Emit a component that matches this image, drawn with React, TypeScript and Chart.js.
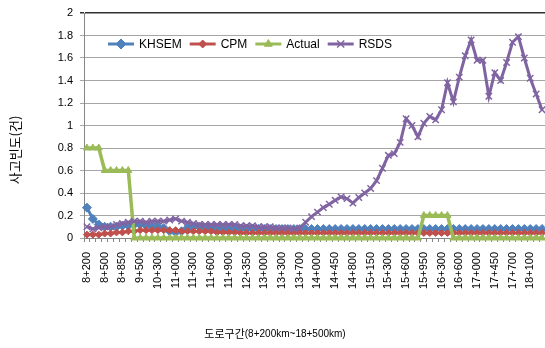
import React, { useEffect, useRef } from 'react';
import { Chart, registerables } from 'chart.js';
import { drawPoint } from 'chart.js/helpers';

Chart.register(...registerables);

const categories = [
  '8+200', '8+300', '8+400', '8+500', '8+600', '8+750', '8+850', '8+950', '9+200', '9+500',
  '9+700', '10+000', '10+300', '10+500', '10+750', '11+000', '11+100', '11+200', '11+300', '11+400',
  '11+500', '11+600', '11+700', '11+800', '11+900', '12+050', '12+200', '12+350', '12+550', '12+800',
  '13+000', '13+100', '13+200', '13+300', '13+400', '13+550', '13+700', '13+800', '13+900', '14+000',
  '14+150', '14+300', '14+450', '14+550', '14+700', '14+800', '14+900', '15+050', '15+150', '15+200',
  '15+250', '15+300', '15+400', '15+500', '15+600', '15+700', '15+850', '15+950', '16+050', '16+200',
  '16+300', '16+400', '16+500', '16+600', '16+750', '16+900', '17+000', '17+150', '17+300', '17+450',
  '17+550', '17+650', '17+700', '17+800', '17+950', '18+100', '18+300', '18+500',
];

const khsem = [
  0.27, 0.17, 0.12, 0.1, 0.1, 0.1, 0.11, 0.11, 0.12, 0.12,
  0.11, 0.1, 0.1, 0.09, 0.06, 0.05, 0.06, 0.09, 0.1, 0.1,
  0.09, 0.08, 0.08, 0.08, 0.08, 0.08, 0.08, 0.08, 0.08, 0.08,
  0.08, 0.08, 0.08, 0.08, 0.08, 0.08, 0.08, 0.08, 0.08, 0.08,
  0.08, 0.08, 0.08, 0.08, 0.08, 0.08, 0.08, 0.08, 0.08, 0.08,
  0.08, 0.08, 0.08, 0.08, 0.08, 0.08, 0.08, 0.08, 0.08, 0.08,
  0.08, 0.08, 0.08, 0.08, 0.08, 0.08, 0.08, 0.08, 0.08, 0.08,
  0.08, 0.08, 0.08, 0.08, 0.08, 0.08, 0.08, 0.08,
];

const cpm = [
  0.03, 0.03, 0.03, 0.04, 0.04, 0.05, 0.05, 0.06, 0.06, 0.07,
  0.07, 0.07, 0.07, 0.07, 0.07, 0.07, 0.06, 0.06, 0.06, 0.06,
  0.06, 0.06, 0.05, 0.05, 0.05, 0.05, 0.045, 0.045, 0.045, 0.045,
  0.045, 0.045, 0.045, 0.045, 0.045, 0.045, 0.045, 0.045, 0.045, 0.045,
  0.045, 0.045, 0.045, 0.045, 0.045, 0.045, 0.045, 0.045, 0.045, 0.045,
  0.045, 0.045, 0.045, 0.045, 0.045, 0.045, 0.045, 0.045, 0.045, 0.045,
  0.045, 0.045, 0.045, 0.045, 0.045, 0.045, 0.045, 0.045, 0.045, 0.045,
  0.045, 0.045, 0.045, 0.045, 0.045, 0.045, 0.045, 0.045,
];

const actual = [
  0.8, 0.8, 0.8, 0.6, 0.6, 0.6, 0.6, 0.6, 0, 0,
  0, 0, 0, 0, 0, 0, 0, 0, 0, 0,
  0, 0, 0, 0, 0, 0, 0, 0, 0, 0,
  0, 0, 0, 0, 0, 0, 0, 0, 0, 0,
  0, 0, 0, 0, 0, 0, 0, 0, 0, 0,
  0, 0, 0, 0, 0, 0, 0, 0.2, 0.2, 0.2,
  0.2, 0.2, 0, 0, 0, 0, 0, 0, 0, 0,
  0, 0, 0, 0, 0, 0, 0, 0,
];

const rsds = [
  0.1, 0.08, 0.09, 0.1, 0.1, 0.12, 0.13, 0.14, 0.15, 0.15,
  0.14, 0.15, 0.15, 0.15, 0.16, 0.17, 0.15, 0.14, 0.13, 0.12,
  0.12, 0.12, 0.12, 0.12, 0.12, 0.12, 0.11, 0.11, 0.11, 0.1,
  0.1, 0.1, 0.09, 0.09, 0.09, 0.08, 0.09, 0.14, 0.19, 0.23,
  0.27, 0.3, 0.335, 0.365, 0.35, 0.31, 0.36, 0.4, 0.44, 0.51,
  0.62, 0.735, 0.75, 0.85, 1.06, 1.0, 0.9, 1.02, 1.08, 1.05,
  1.14, 1.38, 1.21, 1.43, 1.62, 1.76, 1.58, 1.58, 1.26, 1.47,
  1.4, 1.56, 1.74, 1.79, 1.6, 1.42, 1.28, 1.14,
];

const seriesNames = ['KHSEM', 'CPM', 'Actual', 'RSDS'];
const seriesColors = ['#4F81BD', '#C0504D', '#9BBB59', '#8064A2'];
const yTitle = '사고빈도(건)';
const xTitleMain = '도로구간';
const xTitleSub = '(8+200km~18+500km)';
const labelEvery = 3;

const SANS = '"Liberation Sans", Arial, sans-serif';
const KR = '"Noto Sans CJK KR", "Noto Sans", sans-serif';

const legendPlugin = {
  id: 'excelLegend',
  afterDraw(chart: any) {
    const ctx = chart.ctx;
    ctx.save();
    ctx.font = '12px ' + SANS;
    ctx.textBaseline = 'middle';
    let x = 108;
    const y = 44;
    chart.data.datasets.forEach((ds: any) => {
      ctx.strokeStyle = ds.borderColor;
      ctx.lineWidth = 3;
      ctx.beginPath();
      ctx.moveTo(x, y);
      ctx.lineTo(x + 26, y);
      ctx.stroke();
      ctx.fillStyle = ds.pointBackgroundColor;
      ctx.strokeStyle = ds.pointBorderColor;
      ctx.lineWidth = ds.pointBorderWidth;
      drawPoint(ctx, { pointStyle: ds.pointStyle, rotation: 0, radius: ds.pointRadius + 0.5, borderWidth: ds.pointBorderWidth }, x + 13, y);
      ctx.fillStyle = '#000';
      ctx.textAlign = 'left';
      ctx.fillText(ds.label, x + 31, y + 0.5);
      x += 31 + ctx.measureText(ds.label).width + 8;
    });
    ctx.restore();
  },
};

const titlesPlugin = {
  id: 'axisTitles',
  afterDraw(chart: any) {
    const ctx = chart.ctx;
    ctx.save();
    ctx.fillStyle = '#000';
    ctx.translate(15, 150);
    ctx.rotate(-Math.PI / 2);
    ctx.font = '13px ' + KR;
    ctx.textAlign = 'center';
    ctx.textBaseline = 'middle';
    ctx.fillText(yTitle, 0, 0);
    ctx.restore();

    ctx.save();
    ctx.fillStyle = '#000';
    ctx.textBaseline = 'middle';
    ctx.textAlign = 'left';
    ctx.font = '11px ' + KR;
    const w1 = ctx.measureText(xTitleMain).width;
    ctx.font = '10px ' + SANS;
    const w2 = ctx.measureText(xTitleSub).width;
    const x0 = 275 - (w1 + w2) / 2;
    ctx.font = '11px ' + KR;
    ctx.fillText(xTitleMain, x0, 334);
    ctx.font = '10px ' + SANS;
    ctx.fillText(xTitleSub, x0 + w1, 334.5);
    ctx.restore();
  },
};

export default function App() {
  const canvasRef = useRef<HTMLCanvasElement | null>(null);

  useEffect(() => {
    if (!canvasRef.current) return;
    const values = [khsem, cpm, actual, rsds];
    const styles = [
      { pointStyle: 'rectRot', pointRadius: 4.5, pointBorderWidth: 1 },
      { pointStyle: 'rectRot', pointRadius: 3.5, pointBorderWidth: 1 },
      { pointStyle: 'triangle', pointRadius: 4, pointBorderWidth: 1 },
      { pointStyle: 'crossRot', pointRadius: 4.5, pointBorderWidth: 1.5 },
    ];
    const orders = [4, 3, 2, 1];
    const chart = new Chart(canvasRef.current, {
      type: 'line',
      data: {
        labels: categories,
        datasets: seriesNames.map((name, i) => ({
          label: name,
          data: values[i],
          borderColor: seriesColors[i],
          backgroundColor: seriesColors[i],
          pointBackgroundColor: seriesColors[i],
          pointBorderColor: seriesColors[i],
          borderWidth: i === 2 ? 3.5 : 3,
          tension: 0,
          clip: false,
          order: orders[i],
          ...styles[i],
        })) as any,
      },
      options: {
        animation: false,
        responsive: false,
        events: [],
        layout: { autoPadding: false, padding: { top: 13, right: 0, bottom: 0, left: 0 } },
        plugins: {
          legend: { display: false },
          tooltip: { enabled: false },
        },
        scales: {
          x: {
            type: 'category',
            offset: true,
            afterFit: (scale: any) => {
              scale.height = 110;
              scale.paddingLeft = 0;
              scale.paddingRight = 0;
            },
            grid: {
              offset: true,
              drawOnChartArea: false,
              drawTicks: true,
              tickLength: 4,
              color: '#868686',
            },
            border: { color: '#868686', width: 1 },
            ticks: {
              autoSkip: false,
              maxRotation: 90,
              minRotation: 90,
              padding: 10,
              color: '#000',
              font: { family: SANS, size: 11 },
              callback: (_v: any, idx: number) => (idx % labelEvery === 0 ? categories[idx] : ''),
            },
          },
          y: {
            min: 0,
            max: 2,
            afterFit: (scale: any) => {
              scale.width = 84;
              scale.paddingTop = 0;
              scale.paddingBottom = 0;
            },
            grid: {
              color: (c: any) => (c.tick && c.tick.value === 2 ? '#303030' : '#a6a6a6'),
              lineWidth: (c: any) => (c.tick && c.tick.value === 2 ? 1.5 : 1),
              tickLength: 4,
            },
            border: { color: '#868686', width: 1 },
            ticks: {
              stepSize: 0.2,
              padding: 7,
              color: '#000',
              font: { family: SANS, size: 11 },
              callback: (v: any) => String(Math.round(Number(v) * 10) / 10),
            },
          },
        },
      },
      plugins: [legendPlugin, titlesPlugin],
    });
    return () => chart.destroy();
  }, []);

  return (
    <div style={{ position: 'fixed', left: 0, top: 0, width: 545, height: 348, background: '#fff' }}>
      <canvas ref={canvasRef} width={545} height={348} style={{ width: 545, height: 348, display: 'block' }} />
    </div>
  );
}
